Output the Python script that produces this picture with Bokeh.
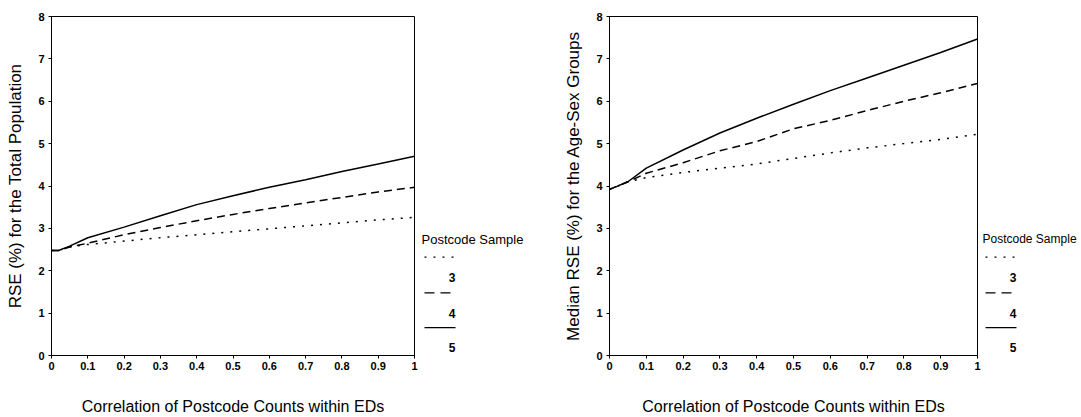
from bokeh.plotting import figure
from bokeh.layouts import row
from bokeh.models import FixedTicker, CustomJSTickFormatter, Range1d
from bokeh.core.properties import value
from bokeh.embed import file_html
from bokeh.resources import INLINE

# ---- data ----
correlation = [0, 0.02, 0.05, 0.1, 0.2, 0.3, 0.4, 0.5, 0.6, 0.7, 0.8, 0.9, 1.0]

total_3 = [2.48, 2.48, 2.56, 2.62, 2.70, 2.78, 2.85, 2.92, 2.99, 3.06, 3.13, 3.20, 3.26]
total_4 = [2.48, 2.48, 2.56, 2.65, 2.85, 3.02, 3.18, 3.33, 3.47, 3.60, 3.73, 3.86, 3.97]
total_5 = [2.48, 2.48, 2.58, 2.78, 3.03, 3.30, 3.56, 3.77, 3.97, 4.15, 4.34, 4.52, 4.70]

agesex_3 = [3.92, 3.99, 4.10, 4.20, 4.32, 4.42, 4.52, 4.65, 4.78, 4.90, 5.00, 5.10, 5.22]
agesex_4 = [3.92, 3.99, 4.10, 4.30, 4.55, 4.83, 5.05, 5.35, 5.55, 5.78, 6.00, 6.20, 6.42]
agesex_5 = [3.92, 3.99, 4.10, 4.42, 4.85, 5.25, 5.60, 5.93, 6.25, 6.55, 6.85, 7.15, 7.47]

sample_sizes = ["3", "4", "5"]
x_ticks = [0, 0.1, 0.2, 0.3, 0.4, 0.5, 0.6, 0.7, 0.8, 0.9, 1.0]
y_ticks = [0, 1, 2, 3, 4, 5, 6, 7, 8]
x_title = "Correlation of Postcode Counts within EDs"
y_title_left = "RSE (%) for the Total Population"
y_title_right = "Median RSE (%) for the Age-Sex Groups"
legend_title = "Postcode Sample"

FONT = "Liberation Sans"
DASHES = ["2 7", "8 5", "solid"]
LEGEND_DASHES = ["2 7", "10 6", "solid"]
H = 417
TOP, BOTTOM = 16, 60


def make_fig(width, border_left, ylabel, series, ylabel_standoff):
    p = figure(width=width, height=H, x_range=Range1d(0, 1), y_range=Range1d(0, 8),
               output_backend="svg", toolbar_location=None,
               min_border_left=border_left, min_border_right=4,
               min_border_top=TOP, min_border_bottom=BOTTOM)
    p.background_fill_color = "white"
    p.border_fill_color = "white"
    p.outline_line_color = "black"
    p.outline_line_width = 1
    p.grid.visible = False

    for ys, dash in zip(series, DASHES):
        p.line(correlation, ys, line_color="black", line_width=1.5, line_dash=dash)

    p.xaxis.ticker = FixedTicker(ticks=x_ticks)
    p.xaxis.formatter = CustomJSTickFormatter(code="return String(Math.round(tick*10)/10);")
    p.yaxis.ticker = FixedTicker(ticks=y_ticks)
    for ax in (p.xaxis[0], p.yaxis[0]):
        ax.major_tick_out = 3
        ax.major_tick_in = 0
        ax.minor_tick_line_color = None
        ax.axis_line_color = "black"
        ax.major_tick_line_color = "black"
        ax.major_label_text_font = FONT
        ax.major_label_text_font_size = "11px"
        ax.major_label_text_font_style = "bold"
        ax.major_label_text_color = "black"
        ax.axis_label_text_font = FONT
        ax.axis_label_text_font_style = "normal"
        ax.axis_label_text_color = "black"
    p.xaxis.axis_label = x_title
    p.xaxis.axis_label_text_font_size = "16px"
    p.xaxis.major_label_standoff = 3
    p.xaxis.axis_label_standoff = 25
    p.yaxis.axis_label = ylabel
    p.yaxis.axis_label_text_font_size = "17px"
    p.yaxis.major_label_standoff = 4
    p.yaxis.axis_label_standoff = ylabel_standoff
    return p


def make_legend(width, x0, font_size):
    # a small axis-free panel; the row aligns its frame with the plots' frames,
    # so its data units are set to page pixels (y downward)
    lg = figure(width=width, height=H, x_range=Range1d(0, width),
                y_range=Range1d(H - BOTTOM, TOP),
                output_backend="svg", toolbar_location=None,
                min_border_left=0, min_border_right=0,
                min_border_top=TOP, min_border_bottom=BOTTOM)
    lg.axis.visible = False
    lg.grid.visible = False
    lg.outline_line_color = None
    lg.background_fill_color = "white"
    lg.border_fill_color = "white"
    lg.text(x=[x0], y=[240], text=[legend_title], text_font=value(FONT),
            text_font_size=font_size, text_baseline="middle", text_align="left",
            text_color="black")
    sample_y = [258, 294, 329]
    label_y = [279, 315, 349]
    for dash, sy, ly, name in zip(LEGEND_DASHES, sample_y, label_y, sample_sizes):
        lg.line(x=[x0 + 3, x0 + 34], y=[sy, sy], line_color="black", line_width=1.3,
                line_dash=dash)
        lg.text(x=[x0 + 34], y=[ly], text=[name], text_font=value(FONT),
                text_font_size="12px", text_font_style="bold", text_baseline="middle",
                text_align="right", text_color="black")
    return lg


left = make_fig(418, 51, y_title_left, [total_3, total_4, total_5], 10)
left_legend = make_legend(122, 3, "13px")
right = make_fig(441, 69, y_title_right, [agesex_3, agesex_4, agesex_5], 10)
right_legend = make_legend(100, 1, "12px")

layout = row(left, left_legend, right, right_legend, spacing=0)
open("out.html", "w").write(file_html(layout, INLINE))
